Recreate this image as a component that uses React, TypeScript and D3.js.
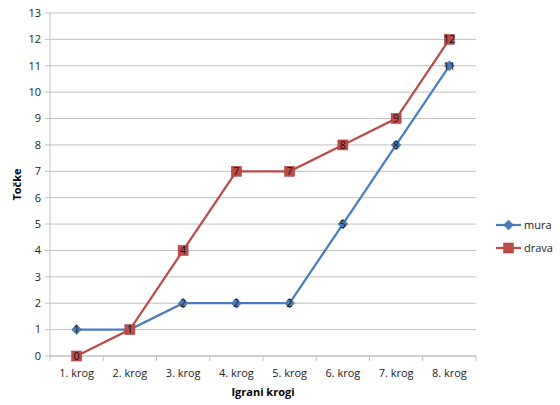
import * as d3 from "d3";

const categories = ["1. krog", "2. krog", "3. krog", "4. krog", "5. krog", "6. krog", "7. krog", "8. krog"];
const mura = [1, 1, 2, 2, 2, 5, 8, 11];
const drava = [0, 1, 4, 7, 7, 8, 9, 12];
const yTicks = d3.range(0, 14);

const W = 560;
const H = 405;
const m = { left: 50, right: 84, top: 13, bottom: 49 };
const font = "'Open Sans', sans-serif";

const series = [
  { name: "mura", values: mura, color: "#4A7EBB", marker: "diamond" },
  { name: "drava", values: drava, color: "#BE4B48", marker: "square" },
];

function Marker({ kind, x, y, color }: { kind: string; x: number; y: number; color: string }) {
  if (kind === "square") {
    return <rect x={x - 5} y={y - 5} width={10} height={10} fill={color} stroke="#9c3a37" strokeWidth={0.5} />;
  }
  const s = 5;
  return <path d={`M${x},${y - s}L${x + s},${y}L${x},${y + s}L${x - s},${y}Z`} fill={color} stroke="#3b6aa3" strokeWidth={0.5} />;
}

export default function App() {
  const x = d3.scaleBand().domain(categories).range([m.left, W - m.right]);
  const y = d3.scaleLinear().domain([0, 13]).range([H - m.bottom, m.top]);
  const cx = (c: string) => (x(c) ?? 0) + x.bandwidth() / 2;

  return (
    <svg width={W} height={H} style={{ position: "absolute", left: 0, top: 0, background: "#fff" }}>
      {yTicks.map((t) => (
        <g key={t}>
          <line x1={m.left - 5} x2={W - m.right} y1={y(t)} y2={y(t)} stroke="#bfbfbf" strokeWidth={1} />
          <text x={m.left - 9} y={y(t)} dy="0.35em" textAnchor="end" fontFamily={font} fontSize={11} fill="#222">
            {t}
          </text>
        </g>
      ))}
      <line x1={m.left} x2={m.left} y1={m.top} y2={H - m.bottom + 5} stroke="#bfbfbf" />
      <line x1={m.left} x2={W - m.right} y1={H - m.bottom} y2={H - m.bottom} stroke="#bfbfbf" />
      {categories.map((c, i) => (
        <g key={c}>
          <line x1={x(c)! + x.bandwidth()} x2={x(c)! + x.bandwidth()} y1={H - m.bottom} y2={H - m.bottom + 5} stroke="#bfbfbf" />
          <text x={cx(c)} y={H - m.bottom + 21} textAnchor="middle" fontFamily={font} fontSize={11} fill="#222">
            {categories[i]}
          </text>
        </g>
      ))}
      {series.map((s) => {
        const line = d3
          .line<number>()
          .x((_, i) => cx(categories[i]))
          .y((v) => y(v));
        return (
          <g key={s.name}>
            <path d={line(s.values) ?? ""} fill="none" stroke={s.color} strokeWidth={2.25} />
            {s.values.map((v, i) => (
              <g key={i}>
                <Marker kind={s.marker} x={cx(categories[i])} y={y(v)} color={s.color} />
                <text x={cx(categories[i])} y={y(v)} dy="0.36em" textAnchor="middle" fontFamily={font} fontSize={10.5} fill="#111">
                  {v}
                </text>
              </g>
            ))}
          </g>
        );
      })}
      <text
        transform={`translate(21,${(m.top + H - m.bottom) / 2}) rotate(-90)`}
        textAnchor="middle"
        fontFamily={font}
        fontSize={11}
        fontWeight="bold"
        fill="#000"
      >
        Točke
      </text>
      <text x={(m.left + W - m.right) / 2} y={H - 9} textAnchor="middle" fontFamily={font} fontSize={11} fontWeight="bold" fill="#000">
        Igrani krogi
      </text>
      {series.map((s, i) => {
        const ly = 225 + i * 23;
        return (
          <g key={s.name}>
            <line x1={496} x2={521} y1={ly} y2={ly} stroke={s.color} strokeWidth={2.25} />
            <Marker kind={s.marker} x={508.5} y={ly} color={s.color} />
            <text x={524} y={ly} dy="0.35em" fontFamily={font} fontSize={11} fill="#222">
              {s.name}
            </text>
          </g>
        );
      })}
    </svg>
  );
}
